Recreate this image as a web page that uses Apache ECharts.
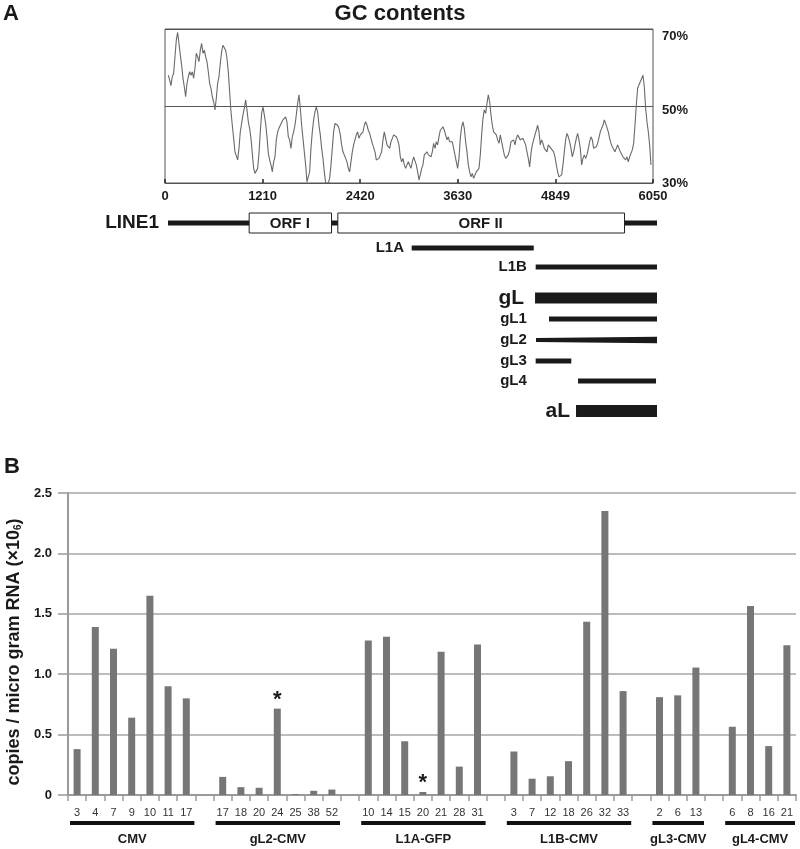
<!DOCTYPE html>
<html>
<head>
<meta charset="utf-8">
<script src="https://cdn.jsdelivr.net/npm/echarts/dist/echarts.min.js"></script>
<style>
html,body{margin:0;padding:0;background:#fff;}
#chart{width:800px;height:849px;}
</style>
</head>
<body>
<div id="chart"></div>
<script>
// ---------------- DATA ----------------
// Panel A: GC content (%) of LINE1 along a sliding window
const gcWindowStart = 41;      // nt position of first window
const gcWindowStep = 16.53;    // nt between windows
const gcPercent = [
58.0,56.7,55.3,57.6,58.5,62.8,67.1,69.1,66.3,63.2,
60.6,57.2,55.0,52.4,55.9,57.6,58.9,58.0,58.9,57.2,
59.8,63.7,62.8,61.5,64.5,66.3,63.7,64.5,62.8,61.5,
58.9,55.9,54.6,52.4,51.1,49.0,52.0,55.9,57.6,61.1,
64.1,65.8,66.3,64.5,62.4,58.9,53.7,48.5,45.0,41.6,
38.1,37.7,36.0,39.0,43.3,45.5,47.7,49.4,51.6,49.0,
45.9,44.2,41.6,37.7,33.8,32.5,32.9,33.8,37.7,43.3,
48.1,49.8,47.7,45.5,42.0,37.7,36.0,34.7,32.9,35.5,
36.8,41.2,43.3,44.2,45.0,45.5,46.4,46.8,47.2,45.9,
42.0,
41.2,39.0,42.0,43.3,45.0,47.7,50.7,52.9,49.4,45.0,
41.6,38.1,34.7,30.3,30.0,32.9,39.0,43.3,46.4,48.5,
49.8,48.5,45.0,42.5,39.0,36.4,32.9,30.0,30.0,30.0,
31.2,34.7,39.0,43.3,45.5,45.9,45.0,44.2,42.5,39.9,
38.1,38.6,36.4,35.5,33.8,32.9,35.5,38.1,39.9,41.2,
42.5,43.3,41.6,42.5,42.9,43.3,45.0,45.9,45.0,43.7,
42.9,41.6,40.3,39.9,38.1,36.0,35.5,36.4,36.8,38.1,
41.2,43.3,41.6,39.9,40.3,39.0,40.7,41.6,42.5,42.9,
42.0,41.2,39.9,36.8,35.5,36.4,34.7,33.8,34.7,35.5,
36.0,33.8,35.5,36.8,
36.8,34.7,32.9,30.8,32.1,33.8,34.7,37.3,36.8,38.1,
37.3,37.7,36.8,38.1,40.3,39.0,40.7,39.9,42.0,43.7,
43.3,44.6,43.7,42.5,41.2,42.0,40.7,41.2,40.7,39.0,
37.3,35.5,33.8,36.4,41.6,44.6,45.9,44.2,40.7,38.1,
34.7,32.9,31.6,32.5,31.2,32.1,32.9,32.5,33.8,37.3,
42.5,46.8,49.0,48.1,50.7,52.9,51.1,47.7,45.0,43.3,
43.7,42.5,41.2,40.3,42.5,40.7,39.0,37.3,36.4,36.4,
37.3,38.6,40.7,40.3,41.2,39.9,41.6,42.5,42.9,41.2,
40.7,41.6,41.2,39.9,38.1,36.4,34.2,37.7,39.9,40.3,
42.5,43.7,45.0,43.3,
39.9,41.2,40.3,39.0,39.4,38.1,39.9,40.3,39.0,39.4,
38.1,36.8,34.7,32.9,31.6,31.2,32.1,34.7,38.1,41.2,
42.9,42.0,40.7,39.0,36.8,38.1,39.9,41.6,42.9,41.2,
39.0,34.7,36.4,37.3,36.4,37.3,37.7,40.7,42.0,41.2,
39.0,38.6,39.4,40.3,40.7,43.3,44.2,45.0,46.4,45.5,
45.0,43.3,41.6,40.3,39.4,39.9,38.1,38.6,39.9,39.0,
38.1,37.7,36.8,36.4,36.0,36.8,35.5,36.8,37.7,38.6,
40.3,45.0,50.3,54.6,55.5,56.3,56.7,58.0,55.0,49.4,
45.9,43.3,39.9,34.7
];
const gcTickLabels = ['0','1210','2420','3630','4849','6050'];
const gcPercentTicks = ['30%','50%','70%'];

// LINE1 map (nt)
const line1Length = 6050;
const orfNames = ['ORF I','ORF II'];
const orfStart = [998, 2095];
const orfEnd = [2017, 5642];
const fragmentNames = ['L1A','L1B','gL','gL1','gL2','gL3','gL4','aL'];
const fragmentStart = [3015, 4549, 4541, 4714, 4553, 4549, 5073, 5048];
const fragmentEnd = [4525, 6050, 6050, 6050, 6050, 4990, 6038, 6050];

// Panel B: copies / microgram RNA (x10^6)
const sampleLabels = ['3','4','7','9','10','11','17','',
  '17','18','20','24','25','38','52','',
  '10','14','15','20','21','28','31','',
  '3','7','12','18','26','32','33','',
  '2','6','13','',
  '6','8','16','21'];
const copiesValues = [0.38,1.39,1.21,0.64,1.65,0.90,0.80,null,
  0.15,0.065,0.06,0.715,0.008,0.035,0.045,null,
  1.28,1.31,0.445,0.025,1.185,0.235,1.245,null,
  0.36,0.135,0.155,0.28,1.435,2.35,0.86,null,
  0.81,0.825,1.055,null,
  0.565,1.565,0.405,1.24];
const starredSamples = [11, 19];
const groupNames = ['CMV','gL2-CMV','L1A-GFP','L1B-CMV','gL3-CMV','gL4-CMV'];
const groupFirst = [0, 8, 16, 24, 32, 36];
const groupLast = [6, 14, 22, 30, 34, 39];
const copiesTicks = ['0','0.5','1.0','1.5','2.0','2.5'];

// ---------------- LAYOUT / STYLE ----------------
const FONT = '"Liberation Sans", Arial, Helvetica, sans-serif';
const INK = '#1a1a1a';
const diagramLayout = {
  line1Row: 23,
  rows: [48, 67, 98, 119, 140, 161, 181, 211],
  thickStart: [5, 5, 11, 5, 4, 5, 5, 12],
  thickEnd:   [5, 5, 11, 5, 6.5, 5, 5, 12],
  labelRightNt: [2920, 4440, 4405, 4440, 4440, 4440, 4440, 4975],
  fontSize: [15, 15, 21, 15, 15, 15, 15, 21]
};

// ---------------- BUILD ----------------
const gcData = gcPercent.map((v, i) => [gcWindowStart + i * gcWindowStep, v]);
const barData = copiesValues.map((v, i) => starredSamples.includes(i)
  ? {value: v, label: {show: true, formatter: '*', position: 'top', distance: -2,
      fontSize: 22, fontWeight: 'bold', color: INK, fontFamily: FONT}}
  : v);

const chart = echarts.init(document.getElementById('chart'), null, {renderer: 'canvas'});

function renderBackbone(params, api) {
  const s = api.coord([0, diagramLayout.line1Row]);
  const e = api.coord([line1Length, diagramLayout.line1Row]);
  return {type: 'group', children: [
    {type: 'rect', shape: {x: s[0], y: s[1] - 2.6, width: e[0] - s[0], height: 5.2}, style: {fill: INK}},
    {type: 'text', style: {x: s[0] - 9, y: s[1], text: 'LINE1', align: 'right', verticalAlign: 'middle',
      font: 'bold 19px ' + FONT, fill: INK}}
  ]};
}
function renderOrf(params, api) {
  const i = params.dataIndex;
  const s = api.coord([orfStart[i], diagramLayout.line1Row]);
  const e = api.coord([orfEnd[i], diagramLayout.line1Row]);
  return {type: 'group', children: [
    {type: 'rect', shape: {x: s[0] + 0.5, y: s[1] - 10, width: e[0] - s[0], height: 20},
      style: {fill: '#fff', stroke: '#222', lineWidth: 1}},
    {type: 'text', style: {x: (s[0] + e[0]) / 2, y: s[1] + 0.5, text: orfNames[i], align: 'center',
      verticalAlign: 'middle', font: 'bold 15px ' + FONT, fill: INK}}
  ]};
}
function renderFragment(params, api) {
  const i = params.dataIndex;
  const row = diagramLayout.rows[i];
  const s = api.coord([fragmentStart[i], row]);
  const e = api.coord([fragmentEnd[i], row]);
  const l = api.coord([diagramLayout.labelRightNt[i], row]);
  const h1 = diagramLayout.thickStart[i] / 2, h2 = diagramLayout.thickEnd[i] / 2;
  return {type: 'group', children: [
    {type: 'polygon', shape: {points: [[s[0], s[1] - h1], [e[0], e[1] - h2], [e[0], e[1] + h2], [s[0], s[1] + h1]]},
      style: {fill: INK}},
    {type: 'text', style: {x: l[0], y: l[1], text: fragmentNames[i], align: 'right', verticalAlign: 'middle',
      font: 'bold ' + diagramLayout.fontSize[i] + 'px ' + FONT, fill: INK}}
  ]};
}
function renderGroup(params, api) {
  const i = params.dataIndex;
  const p1 = api.coord([groupFirst[i], 0]);
  const p2 = api.coord([groupLast[i], 0]);
  const bw = api.size([1, 0])[0];
  const x1 = p1[0] - bw / 2 + 2, x2 = p2[0] + bw / 2 - 1;
  const y = p1[1] + 28;
  return {type: 'group', children: [
    {type: 'rect', shape: {x: x1, y: y - 2, width: x2 - x1, height: 4}, style: {fill: '#111'}},
    {type: 'text', style: {x: (x1 + x2) / 2, y: y + 16, text: groupNames[i], align: 'center',
      verticalAlign: 'middle', font: 'bold 13px ' + FONT, fill: INK}}
  ]};
}

const option = {
  backgroundColor: '#fff',
  animation: false,
  textStyle: {fontFamily: FONT},
  title: [
    {text: 'A', left: 3, top: 3, padding: 0, textStyle: {fontSize: 22, fontWeight: 'bold', color: INK, fontFamily: FONT}},
    {text: 'GC contents', left: 'center', top: 3, padding: 0, textStyle: {fontSize: 22, fontWeight: 'bold', color: INK, fontFamily: FONT}},
    {text: 'B', left: 4, top: 456, padding: 0, textStyle: {fontSize: 22, fontWeight: 'bold', color: INK, fontFamily: FONT}}
  ],
  grid: [
    {left: 165, top: 29, width: 488, height: 154, show: true, borderColor: '#555', borderWidth: 1,
      backgroundColor: 'transparent', outerBoundsMode: 'none', containLabel: false},
    {left: 168, top: 200, width: 489, height: 225, outerBoundsMode: 'none', containLabel: false},
    {left: 68, top: 493, width: 728, height: 302, outerBoundsMode: 'none', containLabel: false}
  ],
  xAxis: [
    {type: 'value', gridIndex: 0, min: 0, max: 6050, interval: 1210,
      axisLine: {show: true, lineStyle: {color: '#555', width: 1}},
      axisTick: {show: true, inside: true, length: 4, lineStyle: {color: '#222', width: 1.5}},
      axisLabel: {margin: 7, fontSize: 13, fontWeight: 'bold', color: INK, fontFamily: FONT,
        formatter: v => gcTickLabels[Math.round(v / 1210)]},
      splitLine: {show: false}},
    {type: 'value', gridIndex: 1, min: 0, max: line1Length, show: false},
    {type: 'category', gridIndex: 2, data: sampleLabels, boundaryGap: true,
      axisLine: {show: true, lineStyle: {color: '#9a9a9a', width: 2}},
      axisTick: {show: true, interval: 0, length: 6, lineStyle: {color: '#9a9a9a', width: 1.5}},
      axisLabel: {interval: 0, margin: 12, fontSize: 11, color: '#333', fontFamily: FONT},
      splitLine: {show: false}}
  ],
  yAxis: [
    {type: 'value', gridIndex: 0, position: 'right', min: 30, max: 70, interval: 20,
      axisLine: {show: false}, axisTick: {show: false},
      axisLabel: {margin: 9, fontSize: 13, fontWeight: 'bold', color: INK, fontFamily: FONT,
        formatter: v => '{p' + Math.round(v) + '|' + gcPercentTicks[Math.round((v - 30) / 20)] + '}',
        rich: {
          p30: {fontSize: 13, fontWeight: 'bold', color: INK, fontFamily: FONT},
          p50: {fontSize: 13, fontWeight: 'bold', color: INK, fontFamily: FONT, padding: [8, 0, 0, 0]},
          p70: {fontSize: 13, fontWeight: 'bold', color: INK, fontFamily: FONT, padding: [14, 0, 0, 0]}
        }},
      splitLine: {show: true, lineStyle: {color: '#555', width: 1}}},
    {type: 'value', gridIndex: 1, min: 0, max: 225, inverse: true, show: false},
    {type: 'value', gridIndex: 2, min: 0, max: 2.5, interval: 0.5,
      axisLine: {show: true, lineStyle: {color: '#9a9a9a', width: 2}},
      axisTick: {show: true, length: 10, lineStyle: {color: '#9a9a9a', width: 1.5}},
      axisLabel: {margin: 16, fontSize: 13, fontWeight: 'bold', color: INK, fontFamily: FONT,
        formatter: v => copiesTicks[Math.round(v / 0.5)]},
      splitLine: {show: true, lineStyle: {color: '#a6a6a6', width: 1.5}},
      name: 'copies / micro gram RNA (×10{sub|6})',
      nameLocation: 'middle', nameGap: 45, nameRotate: 90,
      nameTextStyle: {fontSize: 18, fontWeight: 'bold', color: INK, fontFamily: FONT, padding: [0, 16, 0, 0],
        rich: {sub: {fontSize: 10, fontWeight: 'bold', color: INK, fontFamily: FONT, verticalAlign: 'bottom', padding: [7, 0, 0, 0]}}}}
  ],
  series: [
    {type: 'line', xAxisIndex: 0, yAxisIndex: 0, data: gcData, showSymbol: false, symbol: 'none',
      lineStyle: {color: '#6a6a6a', width: 1.1}, clip: true, z: 3},
    {type: 'custom', xAxisIndex: 1, yAxisIndex: 1, data: [[0, line1Length]], renderItem: renderBackbone,
      encode: {x: [0, 1]}, clip: false, z: 2},
    {type: 'custom', xAxisIndex: 1, yAxisIndex: 1, data: orfStart.map((s, i) => [s, orfEnd[i]]),
      renderItem: renderOrf, encode: {x: [0, 1]}, clip: false, z: 3},
    {type: 'custom', xAxisIndex: 1, yAxisIndex: 1, data: fragmentStart.map((s, i) => [s, fragmentEnd[i]]),
      renderItem: renderFragment, encode: {x: [0, 1]}, clip: false, z: 3},
    {type: 'bar', xAxisIndex: 2, yAxisIndex: 2, data: barData, barWidth: 7,
      itemStyle: {color: '#767676'}, z: 3},
    {type: 'custom', xAxisIndex: 2, yAxisIndex: 2, data: groupFirst.map((f, i) => [f, 0]),
      renderItem: renderGroup, encode: {x: 0, y: 1}, clip: false, z: 3}
  ]
};
chart.setOption(option);
</script>
</body>
</html>
